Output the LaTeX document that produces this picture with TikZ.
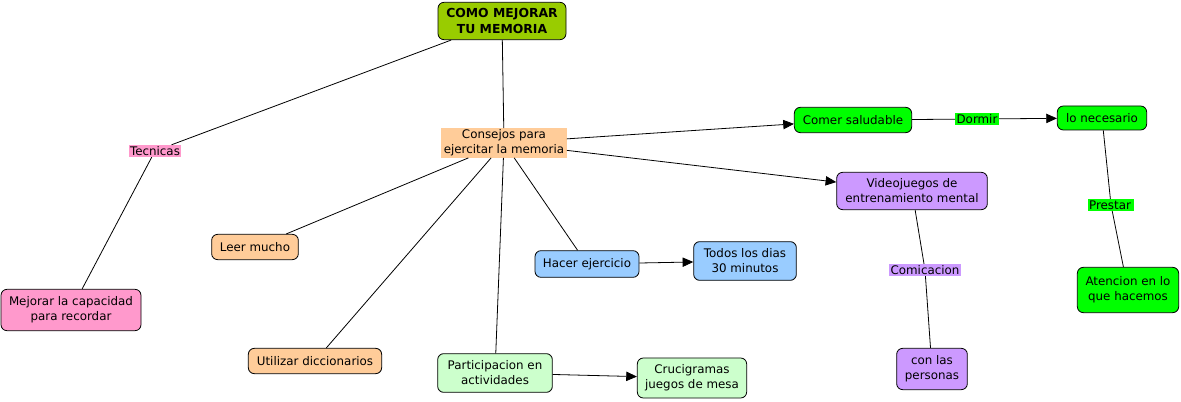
\documentclass[tikz,border=0pt]{standalone}
\usepackage{fontspec}
\setmainfont{DejaVu Sans}
\usetikzlibrary{arrows.meta}
\definecolor{titlegreen}{HTML}{99CC00}
\definecolor{peach}{HTML}{FFCC99}
\definecolor{rosa}{HTML}{FF99CC}
\definecolor{mint}{HTML}{CCFFCC}
\definecolor{sky}{HTML}{99CCFF}
\definecolor{lime}{HTML}{00FF00}
\definecolor{lila}{HTML}{CC99FF}
\begin{document}
\begin{tikzpicture}[x=0.75pt,y=-0.75pt,
  concept/.style={draw,rounded corners=4.5pt,align=center,inner sep=2pt,
    font=\fontsize{8.9}{11.3}\selectfont,line width=0.6pt},
  linklabel/.style={inner sep=1pt,align=center,font=\fontsize{8.9}{11.3}\selectfont},
  link/.style={line width=0.6pt},
  arrowlink/.style={line width=0.6pt,-{Triangle[length=8pt,width=7pt]}}]
\useasboundingbox (0,0) rectangle (1181,402);
\node[concept,fill=titlegreen,minimum width=96pt,minimum height=28pt,
  font=\fontsize{9.3}{11.3}\selectfont\bfseries] (titulo) at (502,21) {COMO MEJORAR\\TU MEMORIA};
\node[linklabel,fill=peach,minimum width=94pt,minimum height=21pt] (consejos) at (504,143) {Consejos para\\ejercitar la memoria};
\node[linklabel,fill=rosa] (tecnicas) at (155,151) {Tecnicas};
\node[concept,fill=rosa,minimum width=105pt,minimum height=31pt] (mejorar) at (71,310) {Mejorar la capacidad\\para recordar};
\node[concept,fill=peach,minimum width=65pt,minimum height=19pt] (leer) at (255,247) {Leer mucho};
\node[concept,fill=peach,minimum width=100pt,minimum height=19pt] (utilizar) at (315,361) {Utilizar diccionarios};
\node[concept,fill=mint,minimum width=86pt,minimum height=29pt] (particip) at (495,373) {Participacion en\\actividades};
\node[concept,fill=mint,minimum width=82pt,minimum height=30pt] (cruci) at (692,378) {Crucigramas\\juegos de mesa};
\node[concept,fill=sky,minimum width=78pt,minimum height=20pt] (hacer) at (587,264) {Hacer ejercicio};
\node[concept,fill=sky,minimum width=77pt,minimum height=29pt] (todos) at (745,261) {Todos los dias\\30 minutos};
\node[concept,fill=lime,minimum width=88pt,minimum height=19pt] (comer) at (853,120) {Comer saludable};
\node[linklabel,fill=lime] (dormir) at (977,119) {Dormir};
\node[concept,fill=lime,minimum width=67pt,minimum height=18pt] (necesario) at (1102,118) {lo necesario};
\node[linklabel,fill=lime] (prestar) at (1111,205) {Prestar\,};
\node[concept,fill=lime,minimum width=76pt,minimum height=34pt] (atencion) at (1128,290) {Atencion en lo\\que hacemos};
\node[concept,fill=lila,minimum width=113pt,minimum height=28pt] (videojuegos) at (912,191) {Videojuegos de\\entrenamiento mental};
\node[linklabel,fill=lila] (comicacion) at (925,270) {Comicacion};
\node[concept,fill=lila,minimum width=53pt,minimum height=31pt] (personas) at (932,369) {con las\\personas};
\draw[link] (titulo) -- (tecnicas);
\draw[link] (tecnicas) -- (mejorar);
\draw[link] (titulo) -- (consejos);
\draw[arrowlink] (consejos) -- (comer);
\draw[arrowlink] (consejos) -- (videojuegos);
\draw[link] (consejos) -- (leer);
\draw[link] (consejos) -- (utilizar);
\draw[link] (consejos) -- (particip);
\draw[link] (consejos) -- (hacer);
\draw[arrowlink] (hacer) -- (todos);
\draw[arrowlink] (particip) -- (cruci);
\draw[link] (comer) -- (dormir);
\draw[arrowlink] (dormir) -- (necesario);
\draw[link] (necesario) -- (prestar);
\draw[link] (prestar) -- (atencion);
\draw[link] (videojuegos) -- (comicacion);
\draw[link] (comicacion) -- (personas);
\end{tikzpicture}
\end{document}
